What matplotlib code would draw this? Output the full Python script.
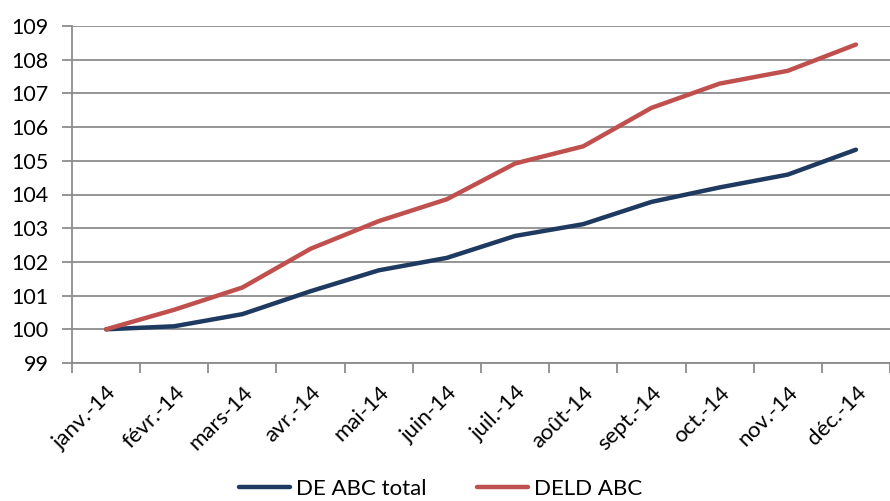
import matplotlib
matplotlib.use("Agg")
import matplotlib.pyplot as plt
import numpy as np

months = ['janv.-14', 'févr.-14', 'mars-14', 'avr.-14', 'mai-14', 'juin-14',
          'juil.-14', 'août-14', 'sept.-14', 'oct.-14', 'nov.-14', 'déc.-14']
de_abc_total = [100.0, 100.09, 100.45, 101.13, 101.75, 102.12,
                102.77, 103.12, 103.78, 104.21, 104.59, 105.33]
deld_abc = [100.0, 100.58, 101.24, 102.39, 103.21, 103.86,
            104.92, 105.43, 106.57, 107.29, 107.67, 108.45]

plt.rcParams['font.family'] = ['Lato', 'DejaVu Sans']
grid_c = '#8c8c8c'

fig = plt.figure(figsize=(8.9, 5.01), dpi=100)
ax = fig.add_axes([72 / 890, (501 - 363) / 501, (890 - 72) / 890, (363 - 26) / 501])

x = np.arange(len(months))
ax.plot(x, de_abc_total, color='#1F3A60', lw=3.2, solid_capstyle='round', label='DE ABC total', zorder=3)
ax.plot(x, deld_abc, color='#C0504D', lw=3.2, solid_capstyle='round', label='DELD ABC', zorder=3)

ax.set_ylim(99, 109)
ax.set_yticks(np.arange(99, 110, 1))
ax.set_xlim(-0.5, 11.5 - 11 / 69)
ax.set_xticks(np.arange(-0.5, 12, 1))
ax.set_xticklabels([])
ax.set_xticks(x, minor=True)
ax.set_xticklabels(months, minor=True, rotation=45, ha='right', rotation_mode='anchor', fontsize=16)
ax.tick_params(axis='x', which='minor', length=0, pad=14)
ax.tick_params(axis='x', which='major', length=7, width=1.3, color=grid_c)
ax.tick_params(axis='y', length=7, width=1.3, color=grid_c, labelsize=15.5, pad=10)

ax.grid(axis='y', color=grid_c, lw=1.3)
ax.set_axisbelow(True)
for s in ['top', 'right']:
    ax.spines[s].set_visible(False)
for s in ['left', 'bottom']:
    ax.spines[s].set_color(grid_c)
    ax.spines[s].set_linewidth(1.3)

fig.legend(loc='lower center', bbox_to_anchor=(0.495, -0.035), ncol=2, frameon=False,
           fontsize=16, handlelength=2.3, columnspacing=2.3, handletextpad=0.25)

fig.savefig('out.png', dpi=100)
